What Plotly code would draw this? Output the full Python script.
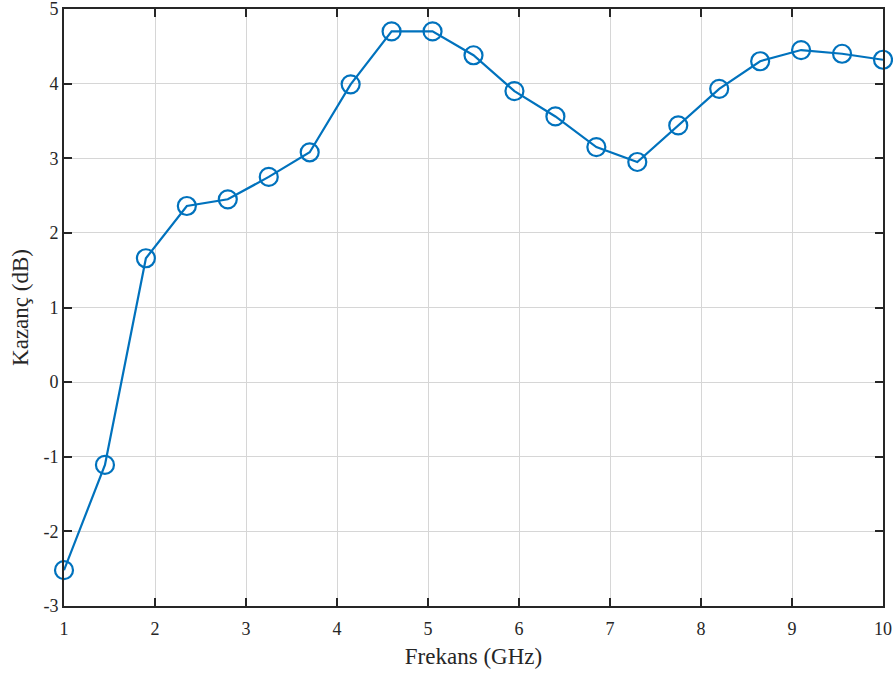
import plotly.graph_objects as go

freq = [1, 1.45, 1.9, 2.35, 2.8, 3.25, 3.7, 4.15, 4.6, 5.05, 5.5, 5.95, 6.4, 6.85, 7.3, 7.75, 8.2, 8.65, 9.1, 9.55, 10]
gain = [-2.52, -1.11, 1.66, 2.36, 2.45, 2.75, 3.08, 3.99, 4.70, 4.70, 4.38, 3.90, 3.56, 3.15, 2.95, 3.44, 3.93, 4.30, 4.45, 4.40, 4.32]
x_ticks = [1, 2, 3, 4, 5, 6, 7, 8, 9, 10]
y_ticks = [-3, -2, -1, 0, 1, 2, 3, 4, 5]
y_labels = ["-3", "-2", "-1", "0", "1", "2", "3", "4", "5"]

fig = go.Figure()
fig.add_trace(go.Scatter(
    x=freq, y=gain, mode="lines+markers",
    line=dict(color="#0072BD", width=2.2),
    marker=dict(symbol="circle-open", size=18, color="#0072BD", line=dict(width=2.2, color="#0072BD")),
    cliponaxis=False, showlegend=False,
))

tick_font = dict(family="Liberation Serif, Times New Roman, serif", size=18, color="#262626")
title_font = dict(family="Liberation Serif, Times New Roman, serif", size=23, color="#262626")
axis_common = dict(
    showline=True, linecolor="#262626", linewidth=2, mirror="ticks",
    ticks="inside", ticklen=8, tickwidth=2, tickcolor="#262626",
    showgrid=True, gridcolor="#D6D6D6", gridwidth=1, zeroline=False,
    tickfont=tick_font, automargin=False, ticklabeloverflow="allow",
)
fig.update_xaxes(range=[1, 10], tickvals=x_ticks, ticklabelstandoff=5,
                 title=dict(text="Frekans (GHz)", font=title_font, standoff=10), **axis_common)
fig.update_yaxes(range=[-3, 5], tickvals=y_ticks, ticktext=y_labels,
                 title=dict(text="Kazanç (dB)", font=title_font, standoff=8), **axis_common)

fig.update_layout(
    width=893, height=673,
    margin=dict(l=64, r=10, t=9, b=67),
    paper_bgcolor="white", plot_bgcolor="white",
    font=tick_font,
)
fig.write_html("out.html")
